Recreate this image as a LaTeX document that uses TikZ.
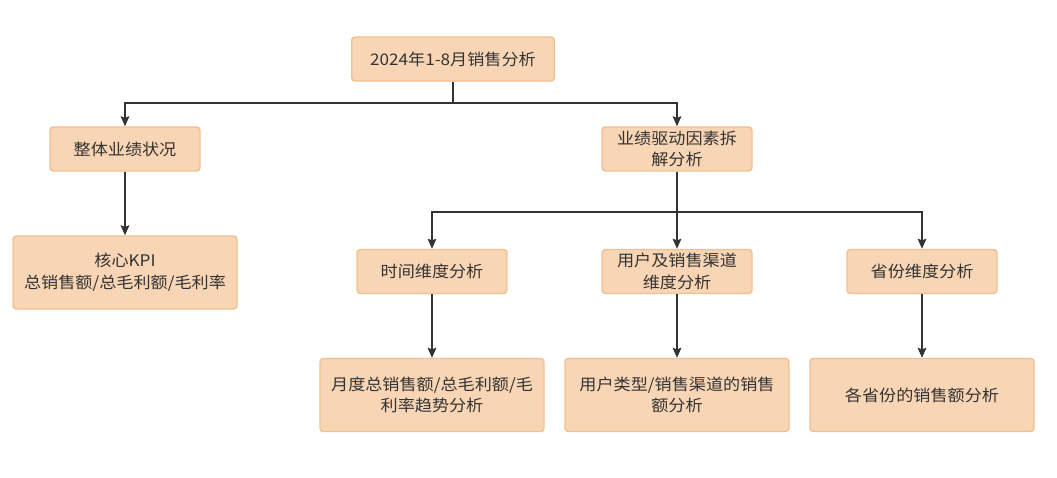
\documentclass[tikz,border=0pt]{standalone}
\usepackage{fontspec}
\setmainfont{Noto Sans CJK SC}[FakeStretch=1.07]
\usetikzlibrary{arrows.meta}
\definecolor{boxfill}{HTML}{F8D5B4}
\definecolor{boxdraw}{HTML}{F2BF8E}
\definecolor{ink}{HTML}{333333}
\tikzset{
  box/.style={draw=boxdraw, fill=boxfill, line width=1.1pt, rounded corners=2.5pt,
    text=ink, align=center, inner sep=0pt,
    font=\fontsize{12pt}{16.3pt}\selectfont},
  small/.style={box, minimum width=112.5pt, minimum height=33pt},
  large/.style={box, minimum width=168pt, minimum height=54.75pt},
  conn/.style={draw=ink, line width=1.15pt, -{Stealth[length=7.5pt,width=6.5pt,inset=1.2pt]}}
}
\begin{document}
\begin{tikzpicture}[x=0.75pt,y=-0.75pt]
\useasboundingbox (0,0) rectangle (1057,478);
\node[box, minimum width=151.9pt, minimum height=33pt] (root) at (453,59) {2024年1-8月销售分析};
\node[small] (perf) at (125,149) {整体业绩状况};
\node[small] (drive) at (677,149) {业绩驱动因素拆\\解分析};
\node[large] (kpi) at (125,272.5) {核心KPI\\总销售额/总毛利额/毛利率};
\node[small] (time) at (432,271.5) {时间维度分析};
\node[small] (user) at (677,271.5) {用户及销售渠道\\维度分析};
\node[small] (prov) at (922,271.5) {省份维度分析};
\node[large] (tb) at (432,395) {月度总销售额/总毛利额/毛\\利率趋势分析};
\node[large] (ub) at (677,395) {用户类型/销售渠道的销售\\额分析};
\node[large] (pb) at (922,395) {各省份的销售额分析};
\coordinate (j1) at (453,103);
\coordinate (j2) at (677,212);
\draw[conn] (root.south) -- (j1) -| (perf.north);
\draw[conn] (root.south) -- (j1) -| (drive.north);
\draw[conn] (perf.south) -- (kpi.north);
\draw[conn] (drive.south) -- (j2) -| (time.north);
\draw[conn] (drive.south) -- (user.north);
\draw[conn] (drive.south) -- (j2) -| (prov.north);
\draw[conn] (time.south) -- (tb.north);
\draw[conn] (user.south) -- (ub.north);
\draw[conn] (prov.south) -- (pb.north);
\end{tikzpicture}
\end{document}
